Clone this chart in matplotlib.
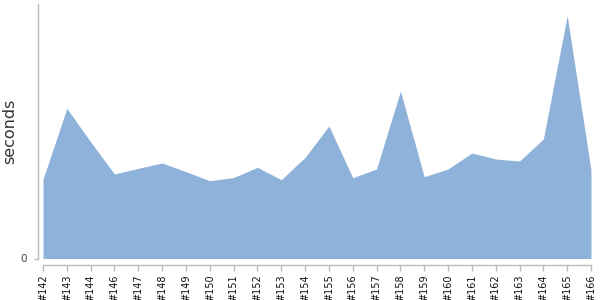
import matplotlib
matplotlib.use("Agg")
import matplotlib.pyplot as plt

builds = ["#142", "#143", "#144", "#146", "#147", "#148", "#149", "#150",
          "#151", "#152", "#153", "#154", "#155", "#156", "#157", "#158",
          "#159", "#160", "#161", "#162", "#163", "#164", "#165", "#166"]
seconds = [79.2, 150.2, 116.6, 84.5, 90.2, 95.5, 86.8, 77.8,
           81.0, 91.2, 78.8, 101.2, 132.5, 80.8, 89.5, 167.5,
           81.8, 89.5, 105.5, 99.5, 97.5, 119.5, 242.8, 88.5]
y_max = 254.5

fig = plt.figure(figsize=(6, 3), dpi=100)
ax = fig.add_axes([43/600, 1 - 258.5/300, (591-43)/600, (258.5-4)/300])

x = list(range(len(builds)))
ax.fill_between(x, 0, seconds, color="#8fb2da", linewidth=0)

ax.set_xlim(0, len(builds) - 1)
ax.set_ylim(0, y_max)
ax.set_xticks(x, builds)
ax.set_yticks([0], ["0"])

for s in ["top", "right"]:
    ax.spines[s].set_visible(False)
ax.spines["left"].set_position(("outward", 3.5))
ax.spines["bottom"].set_position(("outward", 4.5))
for s in ["left", "bottom"]:
    ax.spines[s].set_color("#bbbbbb")
    ax.spines[s].set_linewidth(1)
ax.tick_params(axis="x", length=4, width=1, color="#bbbbbb", pad=3,
               labelrotation=90, labelsize=7, labelcolor="#111111")
ax.tick_params(axis="y", length=3, width=1, color="#bbbbbb", pad=5,
               labelsize=7.5, labelcolor="#444444")

ax.set_ylabel("seconds", fontsize=11.5, color="#333333")
ax.yaxis.set_label_coords(-0.047, 0.5)

fig.savefig("out.png", dpi=100)
